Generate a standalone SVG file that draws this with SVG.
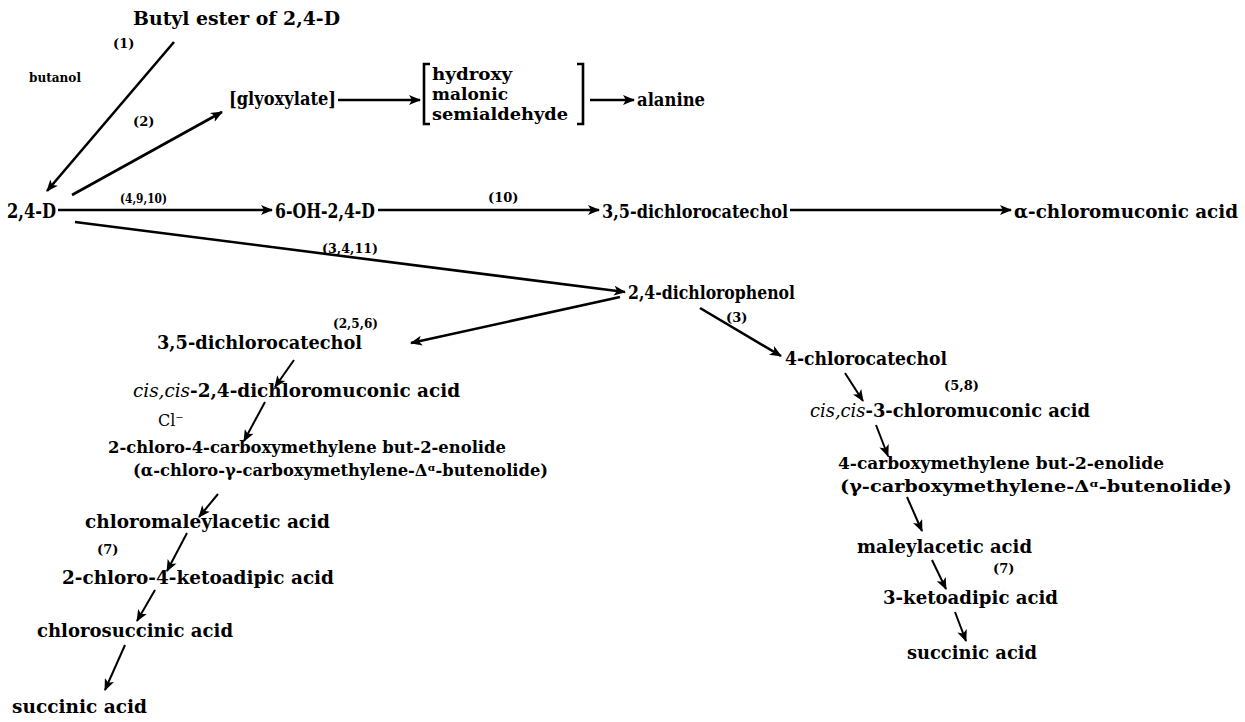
<svg xmlns="http://www.w3.org/2000/svg" width="1245" height="722" viewBox="0 0 1245 722">
<defs>
<marker id="ah" viewBox="0 0 12 10" refX="11" refY="5" markerWidth="13" markerHeight="10" markerUnits="userSpaceOnUse" orient="auto">
<path d="M0,0 L12,5 L0,10 L3,5 Z" fill="#000"/>
</marker>
<style>
text{font-family:"DejaVu Serif","Liberation Serif",serif;font-weight:bold;fill:#000}
.m{font-size:18px}
.d{font-size:16.5px}
.s{font-size:13px}
.i{font-style:italic;font-weight:normal}
.c line{stroke:#000;fill:none;stroke-width:2.6;marker-end:url(#ah)}
.c .t{stroke-width:2}
.br{stroke:#000;fill:none;stroke-width:2.6}
</style>
</defs>
<rect width="1245" height="722" fill="#fff"/>
<g class="c" id="connectors">
<line x1="174" y1="42" x2="47" y2="191"/>
<line x1="72" y1="195" x2="222" y2="112"/>
<line x1="338" y1="100" x2="420" y2="100"/>
<line x1="590" y1="100" x2="634" y2="100"/>
<line x1="58" y1="210" x2="272" y2="210"/>
<line x1="378" y1="210" x2="599" y2="210"/>
<line x1="790" y1="210" x2="1011" y2="210"/>
<line x1="75" y1="222" x2="625" y2="292"/>
<line x1="620" y1="297" x2="411" y2="343"/>
<line x1="700" y1="308" x2="781" y2="356"/>
<line class="t" x1="294" y1="360" x2="275" y2="387"/>
<line class="t" x1="265" y1="402" x2="244" y2="441"/>
<line class="t" x1="218" y1="494" x2="199" y2="517"/>
<line class="t" x1="187" y1="533" x2="167" y2="571"/>
<line class="t" x1="155" y1="590" x2="137" y2="621"/>
<line class="t" x1="125" y1="645" x2="105" y2="690"/>
<line class="t" x1="845" y1="373" x2="863" y2="401"/>
<line class="t" x1="876" y1="425" x2="888" y2="456"/>
<line class="t" x1="907" y1="497" x2="922" y2="531"/>
<line class="t" x1="932" y1="560" x2="946" y2="589"/>
<line class="t" x1="955" y1="612" x2="966" y2="641"/>
</g>
<g id="butyl"><text class="m" x="133" y="25" textLength="207" lengthAdjust="spacingAndGlyphs">Butyl ester of 2,4-D</text></g>
<g id="l1"><text class="s" x="113" y="48">(1)</text></g>
<g id="butanol"><text class="s" x="29" y="82" textLength="52" lengthAdjust="spacingAndGlyphs">butanol</text></g>
<g id="l2"><text class="s" x="133" y="126">(2)</text></g>
<g id="glyoxylate"><text class="m" x="229" y="105" textLength="107" lengthAdjust="spacingAndGlyphs">[glyoxylate]</text></g>
<g id="hms">
<path class="br" d="M430,64 L424,64 L424,124 L430,124"/>
<path class="br" d="M577,64 L583,64 L583,124 L577,124"/>
<text class="d" x="432" y="80" textLength="80" lengthAdjust="spacingAndGlyphs">hydroxy</text>
<text class="d" x="432" y="100" textLength="76" lengthAdjust="spacingAndGlyphs">malonic</text>
<text class="d" x="432" y="120" textLength="136" lengthAdjust="spacingAndGlyphs">semialdehyde</text>
</g>
<g id="alanine"><text class="m" x="637" y="106" textLength="68" lengthAdjust="spacingAndGlyphs">alanine</text></g>
<g id="d24"><text class="m" x="7" y="218" style="font-size:20px" textLength="49" lengthAdjust="spacingAndGlyphs">2,4-D</text></g>
<g id="l4910"><text class="s" x="120" y="203" textLength="47" lengthAdjust="spacingAndGlyphs">(4,9,10)</text></g>
<g id="oh"><text class="m" x="275" y="218" style="font-size:20px" textLength="100" lengthAdjust="spacingAndGlyphs">6-OH-2,4-D</text></g>
<g id="l10"><text class="s" x="488" y="202">(10)</text></g>
<g id="dcc1"><text class="m" x="602" y="218" textLength="186" lengthAdjust="spacingAndGlyphs">3,5-dichlorocatechol</text></g>
<g id="acm"><text class="m" x="1014" y="218" textLength="224" lengthAdjust="spacingAndGlyphs">α-chloromuconic acid</text></g>
<g id="l3411"><text class="s" x="322" y="253" textLength="56" lengthAdjust="spacingAndGlyphs">(3,4,11)</text></g>
<g id="dcp"><text class="m" x="628" y="299" textLength="167" lengthAdjust="spacingAndGlyphs">2,4-dichlorophenol</text></g>
<g id="l256"><text class="s" x="333" y="328" textLength="45" lengthAdjust="spacingAndGlyphs">(2,5,6)</text></g>
<g id="l3"><text class="s" x="726" y="322">(3)</text></g>
<g id="dcc2"><text class="m" x="157" y="349" textLength="205" lengthAdjust="spacingAndGlyphs">3,5-dichlorocatechol</text></g>
<g id="cc4"><text class="m" x="785" y="365" textLength="162" lengthAdjust="spacingAndGlyphs">4-chlorocatechol</text></g>
<g id="l58"><text class="s" x="944" y="390">(5,8)</text></g>
<g id="ccdm"><text class="m" x="133" y="397" textLength="327" lengthAdjust="spacingAndGlyphs"><tspan class="i">cis,cis</tspan>-2,4-dichloromuconic acid</text></g>
<g id="cl"><text x="158" y="426" style="font-size:16px;font-weight:normal">Cl⁻</text></g>
<g id="ccbe"><text class="d" x="108" y="453" textLength="398" lengthAdjust="spacingAndGlyphs">2-chloro-4-carboxymethylene but-2-enolide</text>
<text class="d" x="133" y="476" textLength="415" lengthAdjust="spacingAndGlyphs">(α-chloro-γ-carboxymethylene-Δᵅ-butenolide)</text></g>
<g id="cma"><text class="m" x="85" y="528" textLength="245" lengthAdjust="spacingAndGlyphs">chloromaleylacetic acid</text></g>
<g id="l7a"><text class="s" x="97" y="554">(7)</text></g>
<g id="cka"><text class="m" x="62" y="584" textLength="272" lengthAdjust="spacingAndGlyphs">2-chloro-4-ketoadipic acid</text></g>
<g id="csa"><text class="m" x="37" y="637" textLength="196" lengthAdjust="spacingAndGlyphs">chlorosuccinic acid</text></g>
<g id="sa1"><text class="m" x="12" y="713" textLength="135" lengthAdjust="spacingAndGlyphs">succinic acid</text></g>
<g id="cc3"><text class="m" x="810" y="417" textLength="280" lengthAdjust="spacingAndGlyphs"><tspan class="i">cis,cis</tspan>-3-chloromuconic acid</text></g>
<g id="cbe"><text class="d" x="838" y="469" textLength="326" lengthAdjust="spacingAndGlyphs">4-carboxymethylene but-2-enolide</text>
<text class="d" x="840" y="492" textLength="392" lengthAdjust="spacingAndGlyphs">(γ-carboxymethylene-Δᵅ-butenolide)</text></g>
<g id="mla"><text class="m" x="857" y="553" textLength="175" lengthAdjust="spacingAndGlyphs">maleylacetic acid</text></g>
<g id="l7b"><text class="s" x="993" y="573">(7)</text></g>
<g id="kaa"><text class="m" x="883" y="604" textLength="175" lengthAdjust="spacingAndGlyphs">3-ketoadipic acid</text></g>
<g id="sa2"><text class="m" x="907" y="659" textLength="130" lengthAdjust="spacingAndGlyphs">succinic acid</text></g>
</svg>
